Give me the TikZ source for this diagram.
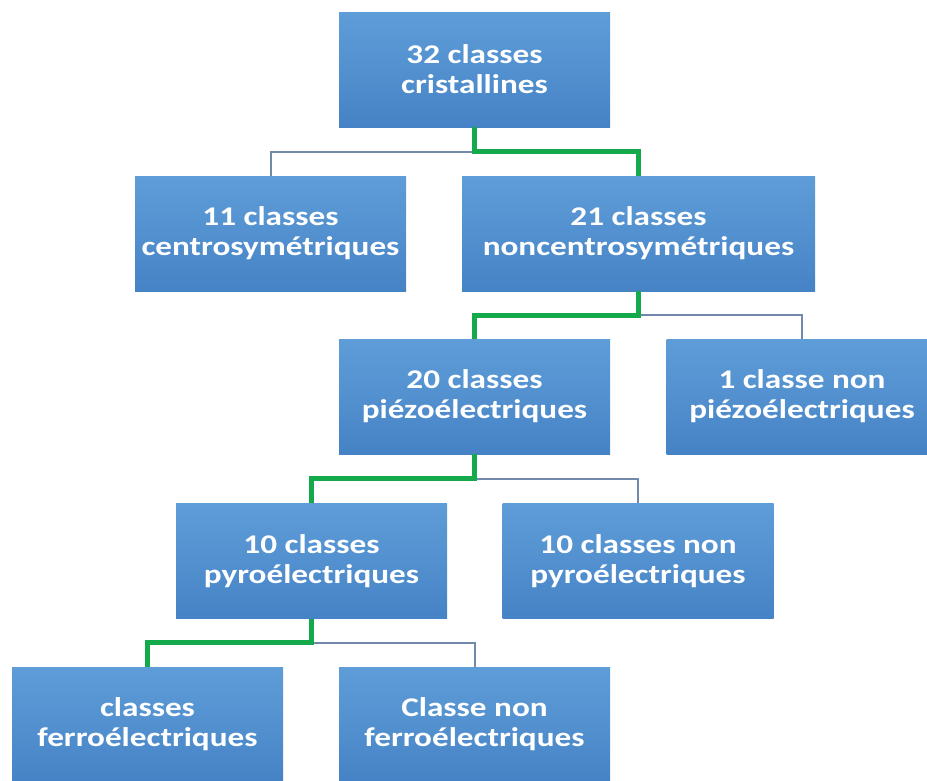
\documentclass[tikz,border=0pt]{standalone}
\usepackage{fontspec}
\setmainfont{Carlito}[FakeStretch=1.23]
\usepackage{xcolor}
\usetikzlibrary{calc}

\definecolor{boxtop}{HTML}{5E9DD8}
\definecolor{boxbot}{HTML}{4683C6}
\definecolor{lnkgrey}{HTML}{7189AA}
\definecolor{lnkgreen}{HTML}{14A94B}

\begin{document}
\begin{tikzpicture}[x=1pt, y=-1pt,
    classbox/.style={top color=boxtop, bottom color=boxbot, draw=none,
      minimum width=271pt, minimum height=115pt, inner sep=0pt,
      align=center, text=white, font=\bfseries\fontsize{27}{30}\selectfont},
    lnk/.style={draw=lnkgrey, line width=2pt},
    path/.style={draw=lnkgreen, line width=5pt}]
  \clip (0,0) rectangle (927,780);
  \fill[white] (0,0) rectangle (927,780);
  % boxes, centres in pixels of the reference
  \node[classbox] (cris) at (474.5,69.5) {32 classes\\cristallines};
  \node[classbox] (centro) at (270.5,233.5) {11 classes\\centrosymétriques};
  \node[classbox, minimum width=353pt] (noncentro) at (638.5,233.5) {21 classes\\noncentrosymétriques};
  \node[classbox] (piezo) at (474.5,396.5) {20 classes\\piézoélectriques};
  \node[classbox] (nonpiezo) at (802,396.5) {1 classe non\\piézoélectriques};
  \node[classbox] (pyro) at (311.5,561) {10 classes\\pyroélectriques};
  \node[classbox] (nonpyro) at (638,561) {10 classes non\\pyroélectriques};
  \node[classbox] (ferro) at (147.5,724.5) {classes\\ferroélectriques};
  \node[classbox] (nonferro) at (474.5,724.5) {Classe non\\ferroélectriques};
  % grey branches
  \draw[lnk] (cris.south) -- ($(cris.south)!.5!(cris.south|-centro.north)$) -| (centro.north);
  \draw[lnk] (noncentro.south) -- ($(noncentro.south)!.5!(noncentro.south|-nonpiezo.north)$) -| (nonpiezo.north);
  \draw[lnk] (piezo.south) -- ($(piezo.south)!.5!(piezo.south|-nonpyro.north)$) -| (nonpyro.north);
  \draw[lnk] (pyro.south) -- ($(pyro.south)!.5!(pyro.south|-nonferro.north)$) -| (nonferro.north);
  % green path
  \draw[path] (cris.south) -- ($(cris.south)!.5!(cris.south|-noncentro.north)$) -| (noncentro.north);
  \draw[path] (noncentro.south) -- ($(noncentro.south)!.5!(noncentro.south|-piezo.north)$) -| (piezo.north);
  \draw[path] (piezo.south) -- ($(piezo.south)!.5!(piezo.south|-pyro.north)$) -| (pyro.north);
  \draw[path] (pyro.south) -- ($(pyro.south)!.5!(pyro.south|-ferro.north)$) -| (ferro.north);
\end{tikzpicture}
\end{document}
